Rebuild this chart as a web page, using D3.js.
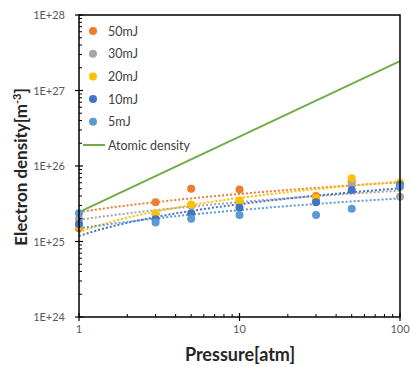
<!DOCTYPE html>
<html>
<head>
<meta charset="utf-8">
<script src="https://cdn.jsdelivr.net/npm/d3@7"></script>
<style>
  body { margin: 0; background: #fff; }
  text { font-family: Lato, "Open Sans", sans-serif; }
</style>
</head>
<body>
<div id="chart"></div>
<script>
// pressures [atm]
var pressures = [1, 3, 5, 10, 30, 50, 100];

// electron density [m^-3] per laser energy
var density50mJ = [1.5e25, 3.3e25, 5.0e25, 4.9e25, 4.0e25, 6.3e25, 5.5e25];
var density30mJ = [1.99e25, 2.3e25, 3.0e25, 3.37e25, 3.5e25, 5.7e25, 3.9e25];
var density20mJ = [1.6e25, 2.37e25, 3.1e25, 3.5e25, 3.8e25, 6.9e25, 6.0e25];
var density10mJ = [1.71e25, 1.97e25, 2.37e25, 2.8e25, 3.3e25, 4.8e25, 5.6e25];
var density5mJ = [2.37e25, 1.78e25, 2.0e25, 2.24e25, 2.24e25, 2.72e25, 5.3e25];

// atomic density line
var atomicPressure = [1, 100];
var atomicDensity = [2.45e25, 2.45e27];

var seriesNames = ['50mJ', '30mJ', '20mJ', '10mJ', '5mJ'];
var seriesColors = ['#ED7D31', '#A5A5A5', '#FFC000', '#4472C4', '#5B9BD5'];
var seriesValues = [density50mJ, density30mJ, density20mJ, density10mJ, density5mJ];

var yTickValues = [1e24, 1e25, 1e26, 1e27, 1e28];
var yTickLabels = ['1E+24', '1E+25', '1E+26', '1E+27', '1E+28'];
var xTickValues = [1, 10, 100];

var width = 411, height = 367;
var margin = {left: 79, right: 11, top: 15, bottom: 50};

var svg = d3.select('#chart').append('svg')
  .attr('width', width)
  .attr('height', height);

var x = d3.scaleLog().domain([1, 100]).range([margin.left, width - margin.right]);
var y = d3.scaleLog().domain([1e24, 1e28]).range([height - margin.bottom, margin.top]);

/**
 * Excel style logarithmic trendline: density = a * ln(p) + b
 */
function logFit(xs, ys) {
  var lx = xs.map(Math.log);
  var mx = d3.mean(lx), my = d3.mean(ys);
  var sxy = 0, sxx = 0;
  lx.forEach(function(v, i) {
    sxy += (v - mx) * (ys[i] - my);
    sxx += (v - mx) * (v - mx);
  });
  var a = sxy / sxx;
  return {a: a, b: my - a * mx};
}

var gPlot = svg.append('g');

// trendlines (dotted)
var samples = d3.range(0, 2.0001, 0.02).map(function(e) { return Math.pow(10, e); });
var line = d3.line()
  .x(function(d) { return x(d[0]); })
  .y(function(d) { return y(d[1]); });

seriesValues.forEach(function(vals, i) {
  var fit = logFit(pressures, vals);
  var pts = samples.map(function(p) { return [p, fit.a * Math.log(p) + fit.b]; });
  gPlot.append('path')
    .attr('d', line(pts))
    .attr('fill', 'none')
    .attr('stroke', seriesColors[i])
    .attr('stroke-width', 2)
    .attr('stroke-dasharray', '2,2');
});

// atomic density
gPlot.append('path')
  .attr('d', line(atomicPressure.map(function(p, i) { return [p, atomicDensity[i]]; })))
  .attr('fill', 'none')
  .attr('stroke', '#70AD47')
  .attr('stroke-width', 2);

// markers
seriesValues.forEach(function(vals, i) {
  gPlot.selectAll('.dot-' + i)
    .data(vals)
    .enter()
    .append('circle')
    .attr('class', 'dot-' + i)
    .attr('cx', function(d, j) { return x(pressures[j]); })
    .attr('cy', function(d) { return y(d); })
    .attr('r', 4)
    .attr('fill', seriesColors[i]);
});

// frame
svg.append('rect')
  .attr('x', margin.left)
  .attr('y', margin.top)
  .attr('width', width - margin.left - margin.right)
  .attr('height', height - margin.top - margin.bottom)
  .attr('fill', 'none')
  .attr('stroke', '#000')
  .attr('stroke-width', 1.5);

// y ticks
var yMinor = [];
for (var e = 24; e < 28; e++) {
  for (var m = 2; m < 10; m++) yMinor.push(m * Math.pow(10, e));
}
svg.selectAll('.y-minor').data(yMinor).enter().append('line')
  .attr('x1', margin.left).attr('x2', margin.left + 3)
  .attr('y1', function(d) { return y(d); }).attr('y2', function(d) { return y(d); })
  .attr('stroke', '#000').attr('stroke-width', 1);
svg.selectAll('.y-major').data(yTickValues).enter().append('line')
  .attr('x1', margin.left - 4).attr('x2', margin.left + 4)
  .attr('y1', function(d) { return y(d); }).attr('y2', function(d) { return y(d); })
  .attr('stroke', '#000').attr('stroke-width', 1.2);
svg.selectAll('.y-label').data(yTickValues).enter().append('text')
  .attr('x', 65)
  .attr('y', function(d) { return y(d) + 4; })
  .attr('text-anchor', 'end')
  .attr('font-size', 11)
  .attr('fill', '#595959')
  .text(function(d, i) { return yTickLabels[i]; });

// x ticks
var xMinor = [];
for (var ex = 0; ex < 2; ex++) {
  for (var mx = 2; mx < 10; mx++) xMinor.push(mx * Math.pow(10, ex));
}
var yBottom = height - margin.bottom;
svg.selectAll('.x-minor').data(xMinor).enter().append('line')
  .attr('x1', function(d) { return x(d); }).attr('x2', function(d) { return x(d); })
  .attr('y1', yBottom).attr('y2', yBottom - 3)
  .attr('stroke', '#000').attr('stroke-width', 1);
svg.selectAll('.x-major').data(xTickValues).enter().append('line')
  .attr('x1', function(d) { return x(d); }).attr('x2', function(d) { return x(d); })
  .attr('y1', yBottom + 4).attr('y2', yBottom - 4)
  .attr('stroke', '#000').attr('stroke-width', 1.2);
svg.selectAll('.x-label').data(xTickValues).enter().append('text')
  .attr('x', function(d) { return x(d); })
  .attr('y', yBottom + 16)
  .attr('text-anchor', 'middle')
  .attr('font-size', 11)
  .attr('fill', '#595959')
  .text(function(d) { return d; });

// axis titles
svg.append('text')
  .attr('x', 240).attr('y', 361)
  .attr('text-anchor', 'middle')
  .attr('font-size', 18)
  .attr('font-weight', 'bold')
  .attr('fill', '#262626')
  .text('Pressure[atm]');

var yTitle = svg.append('text')
  .attr('transform', 'translate(27,167) rotate(-90)')
  .attr('text-anchor', 'middle')
  .attr('font-size', 17)
  .attr('font-weight', 'bold')
  .attr('fill', '#262626');
yTitle.append('tspan').text('Electron density[m');
yTitle.append('tspan').attr('font-size', 11).attr('dy', -6).text('-3');
yTitle.append('tspan').attr('dy', 6).text(']');

// legend
var legend = svg.append('g');
seriesNames.forEach(function(name, i) {
  var ly = 31 + i * 22.7;
  legend.append('circle')
    .attr('cx', 93).attr('cy', ly).attr('r', 4)
    .attr('fill', seriesColors[i]);
  legend.append('text')
    .attr('x', 108).attr('y', ly + 4.5)
    .attr('font-size', 12.5)
    .attr('fill', '#404040')
    .text(name);
});
legend.append('line')
  .attr('x1', 83).attr('x2', 105)
  .attr('y1', 145).attr('y2', 145)
  .attr('stroke', '#70AD47').attr('stroke-width', 2);
legend.append('text')
  .attr('x', 108).attr('y', 149.5)
  .attr('font-size', 12.5)
  .attr('fill', '#404040')
  .text('Atomic density');
</script>
</body>
</html>
